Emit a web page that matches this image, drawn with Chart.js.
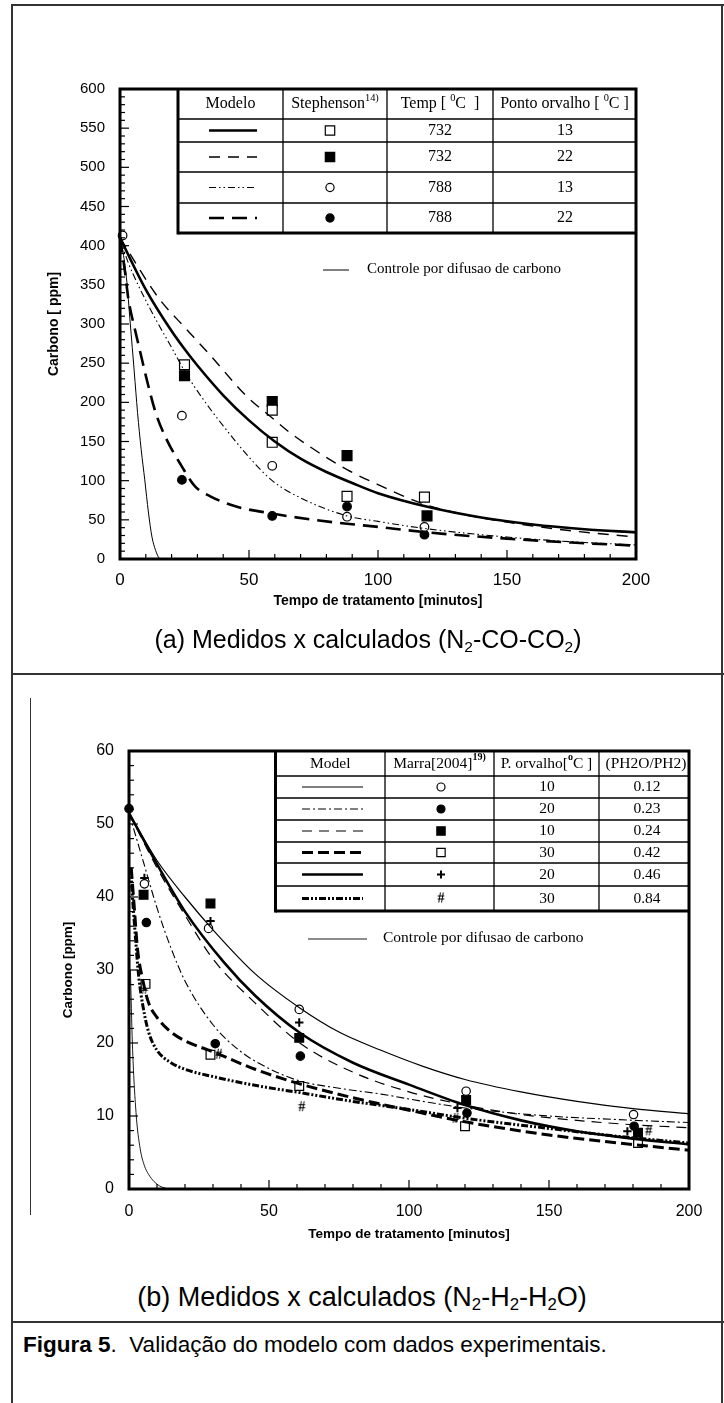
<!DOCTYPE html>
<html>
<head>
<meta charset="utf-8">
<script src="https://cdn.jsdelivr.net/npm/chart.js@4.4.1/dist/chart.umd.min.js"></script>
<style>
body { margin: 0; background: #fff; width: 724px; height: 1403px; position: relative; overflow: hidden; font-family: "Liberation Sans", Arial, sans-serif; }
.ln { position: absolute; background: #333; }
canvas { position: absolute; left: 0; top: 0; }
.cap { position: absolute; white-space: nowrap; color: #000; }
sub { font-size: 62%; vertical-align: -0.25em; }
</style>
</head>
<body>
<div class="ln" style="left:11px;top:4px;width:2px;height:1399px"></div>
<div class="ln" style="left:11px;top:4px;width:713px;height:2px"></div>
<div class="ln" style="left:721px;top:4px;width:2px;height:1399px"></div>
<div class="ln" style="left:11px;top:673px;width:713px;height:2px"></div>
<div class="ln" style="left:30px;top:698px;width:1px;height:517px"></div>

<canvas id="chartA" width="724" height="640"></canvas>
<canvas id="chartB" width="724" height="1262"></canvas>

<div class="cap" style="left:0;width:736px;text-align:center;top:625px;font-size:25px">(a) Medidos x calculados (N<sub>2</sub>-CO-CO<sub>2</sub>)</div>
<div class="cap" style="left:0;width:724px;text-align:center;top:1282px;height:30px;overflow:hidden;font-size:27px">(b) Medidos x calculados (N<sub>2</sub>-H<sub>2</sub>-H<sub>2</sub>O)</div>
<div class="ln" style="left:11px;top:1321px;width:713px;height:2px"></div>
<div class="cap" style="left:23px;top:1332px;font-size:22.5px"><b>Figura 5</b>.&nbsp; Validação do modelo com dados experimentais.</div>

<script>
// ---------- panel (a): N2-CO-CO2, Stephenson ----------
var aSolidX = [0, 10, 20, 25, 30, 40, 50, 60, 70, 80, 90, 100, 120, 140, 160, 180, 200];
var aSolidY = [410, 344, 291, 268, 247, 209, 177, 150, 128, 111, 97, 84, 66, 53, 44, 38, 34];
var aDashX = [0, 15, 25, 35, 49, 59, 66, 77, 88, 100, 117, 133, 150, 175, 200];
var aDashY = [410, 333, 296, 260, 208, 180, 161, 136, 114, 95, 71, 57, 47, 36, 28];
var aDotX = [0, 3, 7, 10, 14, 20, 25, 32, 40, 50, 59, 70, 88, 100, 118, 150, 175, 200];
var aDotY = [410, 380, 350, 330, 305, 270, 240, 205, 170, 130, 100, 78, 55, 48, 39, 28, 22, 18];
var aLongX = [0, 2, 3.2, 6, 8, 10.3, 13.8, 18, 24, 29, 35, 45, 59, 75, 88, 100, 119, 150, 175, 200];
var aLongY = [410, 365, 333, 290, 262, 230, 187, 153, 118, 93, 80, 67, 58, 50, 45, 41, 34, 26, 21, 17];
var aCtrlX = [0, 1, 2.5, 4, 5.5, 6.8, 8.2, 9.6, 11, 12.4, 13.8, 15.2, 16];
var aCtrlY = [410, 395, 359, 300, 240, 187, 140, 101, 60, 28, 11, 1, 0];

var aSqOpenX = [25, 59, 59, 88, 118];
var aSqOpenY = [248, 190, 149, 80, 79];
var aSqFillX = [25, 59, 88, 119];
var aSqFillY = [234, 201, 132, 55];
var aCircOpenX = [1, 24, 59, 88, 118];
var aCircOpenY = [413, 183, 119, 54, 41];
var aCircFillX = [24, 59, 88, 118];
var aCircFillY = [101, 55, 67, 31];

var aTemp = ['732', '732', '788', '788'];
var aDew = ['13', '22', '13', '22'];

// ---------- panel (b): N2-H2-H2O, Marra ----------
var bThinX = [0, 10, 20, 30, 45, 61, 75, 90, 105, 120, 140, 160, 180, 200];
var bThinY = [51.5, 45, 40, 35.5, 29.5, 24.8, 21.5, 19, 16.8, 15, 13.3, 12, 11, 10.3];
var bDashDotX = [0, 5, 10, 15, 20, 30, 40, 50, 61, 75, 90, 105, 120, 150, 175, 200];
var bDashDotY = [51.5, 45, 38.5, 33, 28.5, 22.5, 18.8, 16.5, 14.8, 13.8, 13, 12, 11.1, 10, 9.5, 9.1];
var bDashX = [0, 10, 20, 30, 45, 61, 80, 100, 120, 140, 160, 180, 200];
var bDashY = [51.5, 44, 37.5, 31.5, 25.5, 20, 16, 13.3, 11.5, 10.2, 9.4, 8.8, 8.4];
var bThickDashX = [0.8, 2, 3, 5, 7, 10, 15, 20, 30, 45, 61, 80, 100, 120, 150, 175, 200];
var bThickDashY = [44, 38, 33, 28.5, 25.5, 23.5, 21.5, 20.3, 18.8, 16.4, 14.4, 12.5, 10.8, 9.2, 7.4, 6.3, 5.3];
var bThickX = [0, 10, 20, 34, 45, 61, 80, 100, 120, 140, 160, 180, 200];
var bThickY = [51.5, 44.5, 38, 31, 26.5, 21.4, 17.3, 14.3, 11.5, 9.4, 7.9, 6.9, 6.1];
var bDotX = [0.5, 2, 3.5, 5, 7, 10, 15, 20, 30, 45, 61, 80, 100, 120, 150, 175, 200];
var bDotY = [44, 36, 29, 25, 21.5, 19, 17.3, 16.4, 15.4, 14.2, 13.2, 12, 10.9, 9.7, 8.3, 7.2, 6.3];
var bCtrlX = [0.5, 1.2, 2.5, 4, 5.5, 7, 9, 11, 14];
var bCtrlY = [30, 20, 10.5, 5.5, 3.2, 2, 1, 0.4, 0];

var bCircOpenX = [5.5, 28.4, 60.8, 120.4, 180.2];
var bCircOpenY = [41.8, 35.7, 24.6, 13.4, 10.2];
var bCircFillX = [0, 6.2, 30.8, 61.2, 120.7, 180.4];
var bCircFillY = [52.1, 36.5, 19.9, 18.2, 10.4, 8.6];
var bSqFillX = [5.2, 29.1, 60.8, 120.4, 181.8];
var bSqFillY = [40.3, 39.1, 20.7, 12.2, 7.7];
var bSqOpenX = [5.9, 29.1, 60.8, 120, 181.8];
var bSqOpenY = [28.1, 18.4, 14.1, 8.6, 6.3];
var bPlusX = [5.5, 29.1, 60.8, 117.3, 178];
var bPlusY = [42.6, 36.7, 22.8, 11.1, 7.9];
var bHashX = [5.6, 32.1, 61.7, 116.6, 185.6];
var bHashY = [27.3, 18.4, 11.2, 9.6, 7.9];

var bDew = ['10', '20', '10', '30', '20', '30'];
var bRatio = ['0.12', '0.23', '0.24', '0.42', '0.46', '0.84'];

var SANS = '"Liberation Sans", Arial, sans-serif';
var SERIF = '"Liberation Serif", "Times New Roman", serif';

function pts(xs, ys) {
    return xs.map(function (x, i) { return { x: x, y: ys[i] }; });
}

function curve(xs, ys, width, dash) {
    return {
        data: pts(xs, ys), showLine: true, pointRadius: 0, borderColor: '#000',
        borderWidth: width, borderDash: dash, cubicInterpolationMode: 'monotone', fill: false
    };
}

function marks(xs, ys, style, radius, filled, bw) {
    return {
        data: pts(xs, ys), showLine: false, pointStyle: style, pointRadius: radius,
        pointBackgroundColor: filled ? '#000' : '#fff', pointBorderColor: '#000',
        pointBorderWidth: bw || 1.2, clip: false
    };
}

function glyph(ch) {
    var c = document.createElement('canvas');
    c.width = 12; c.height = 14;
    var g = c.getContext('2d');
    g.font = 'bold 14px ' + SERIF;
    g.textAlign = 'center'; g.textBaseline = 'middle'; g.fillStyle = '#000';
    g.fillText(ch, 6, 7.5);
    return c;
}

// draws "text" pieces with superscripts, centred on cx
function rich(ctx, parts, cx, cy, size) {
    var w = 0;
    parts.forEach(function (p) {
        ctx.font = (p.bold ? 'bold ' : '') + (p.sup ? size * 0.65 : size) + 'px ' + SERIF;
        p.w = ctx.measureText(p.t).width; w += p.w;
    });
    var x = cx - w / 2;
    ctx.textAlign = 'left'; ctx.textBaseline = 'middle';
    parts.forEach(function (p) {
        ctx.font = (p.bold ? 'bold ' : '') + (p.sup ? size * 0.65 : size) + 'px ' + SERIF;
        ctx.fillText(p.t, x, p.sup ? cy - size * 0.38 : cy);
        x += p.w;
    });
}

function line(ctx, x1, y1, x2, y2) {
    ctx.beginPath(); ctx.moveTo(x1, y1); ctx.lineTo(x2, y2); ctx.stroke();
}

var decor = {
    id: 'decor',
    afterDraw: function (chart, args, o) {
        var ctx = chart.ctx, a = chart.chartArea;
        var sx = chart.scales.x, sy = chart.scales.y;
        ctx.save();
        ctx.strokeStyle = '#000'; ctx.fillStyle = '#000';
        ctx.setLineDash([]);
        // inward ticks
        ctx.lineWidth = 1.2;
        for (var v = sx.min; v <= sx.max; v += o.minorX) {
            var len = (Math.round(v) % o.majorX === 0) ? 9 : 5;
            var px = sx.getPixelForValue(v);
            line(ctx, px, a.bottom, px, a.bottom - len);
        }
        for (var w = sy.min; w <= sy.max + 1e-9; w += o.minorY) {
            var len2 = (Math.round(w * 10) % Math.round(o.majorY * 10) === 0) ? 9 : 5;
            var py = sy.getPixelForValue(w);
            line(ctx, a.left, py, a.left + len2, py);
        }
        // frame of the plot
        ctx.lineWidth = 3;
        ctx.strokeRect(a.left, a.top, a.right - a.left, a.bottom - a.top);

        // table
        var t = o.table, L = t.cols[0], R = t.cols[t.cols.length - 1];
        var T = t.rows[0], B = t.rows[t.rows.length - 1];
        ctx.lineWidth = 1.3;
        for (var i = 1; i < t.cols.length - 1; i++) line(ctx, t.cols[i], T, t.cols[i], B);
        for (var j = 1; j < t.rows.length - 1; j++) line(ctx, L, t.rows[j], R, t.rows[j]);
        ctx.lineWidth = 3;
        line(ctx, L, T, L, B + 1.5);
        line(ctx, L, B, R, B);
        var hy = (t.rows[0] + t.rows[1]) / 2;
        t.head.forEach(function (h, k) {
            rich(ctx, h, (t.cols[k] + t.cols[k + 1]) / 2 + (t.headDx ? t.headDx[k] : 0), hy, t.size);
        });
        t.items.forEach(function (it, r) {
            var cy = (t.rows[r + 1] + t.rows[r + 2]) / 2;
            var ld = chart.data.datasets[it.line];
            ctx.lineWidth = ld.borderWidth;
            ctx.setLineDash(ld.borderDash || []);
            line(ctx, t.sample[0], cy, t.sample[1], cy);
            ctx.setLineDash([]);
            var md = chart.data.datasets[it.mark];
            ctx.fillStyle = md.pointBackgroundColor;
            ctx.strokeStyle = '#000';
            ctx.lineWidth = md.pointBorderWidth;
            Chart.helpers.drawPoint(ctx, {
                pointStyle: md.pointStyle, radius: md.pointRadius * t.markScale,
                rotation: 0, borderWidth: md.pointBorderWidth
            }, t.markX, cy);
            ctx.fillStyle = '#000';
            ctx.font = t.size + 'px ' + SERIF;
            ctx.textAlign = 'center'; ctx.textBaseline = 'middle';
            ctx.fillText(it.c3, t.c3x, cy);
            ctx.fillText(it.c4, t.c4x, cy);
        });
        // diffusion legend
        var g = o.ctrl;
        var cd = chart.data.datasets[g.ds];
        ctx.lineWidth = cd.borderWidth;
        line(ctx, g.x1, g.y, g.x2, g.y);
        ctx.font = g.size + 'px ' + SERIF;
        ctx.textAlign = 'left'; ctx.textBaseline = 'middle';
        ctx.fillText('Controle por difusao de carbono', g.tx, g.y - 1);
        ctx.restore();
    }
};

function axisOpts(min, max, step, tickSize, title, titleSize, fit, pad, titlePad, isX) {
    return {
        type: 'linear', min: min, max: max,
        afterFit: function (s) { if (isX) s.height = fit; else s.width = fit; },
        grid: { display: false }, border: { display: false },
        ticks: { stepSize: step, padding: pad, color: '#000', font: { family: SANS, size: tickSize } },
        title: { display: true, text: title, color: '#000', padding: titlePad,
                 font: { family: SANS, size: titleSize, weight: 'bold' } }
    };
}

// ---------------- chart (a) ----------------
var dsA = [
    curve(aSolidX, aSolidY, 2.6, []),                 // 0
    curve(aDashX, aDashY, 1.4, [11, 8]),               // 1
    curve(aDotX, aDotY, 1.1, [7, 3, 1.5, 3, 1.5, 3]),  // 2
    curve(aLongX, aLongY, 2.6, [15, 8]),               // 3
    curve(aCtrlX, aCtrlY, 1, []),                      // 4
    marks(aSqOpenX, aSqOpenY, 'rect', 7, false),       // 5
    marks(aSqFillX, aSqFillY, 'rect', 7, true),        // 6
    marks(aCircOpenX, aCircOpenY, 'circle', 4.3, false), // 7
    marks(aCircFillX, aCircFillY, 'circle', 4.3, true)   // 8
];

new Chart(document.getElementById('chartA'), {
    type: 'scatter',
    data: { datasets: dsA },
    options: {
        responsive: false, animation: false,
        layout: { padding: { left: 0, top: 89, right: 88, bottom: 0 } },
        plugins: {
            legend: { display: false }, tooltip: { enabled: false },
            decor: {
                minorX: 10, majorX: 50, minorY: 10, majorY: 50,
                table: {
                    cols: [178, 283, 387, 493, 636], rows: [89, 119, 142, 172, 203, 233], size: 16,
                    head: [[{ t: 'Modelo' }], [{ t: 'Stephenson' }, { t: '14)', sup: true }],
                           [{ t: 'Temp [ ' }, { t: '0', sup: true }, { t: 'C  ]' }],
                           [{ t: 'Ponto orvalho [ ' }, { t: '0', sup: true }, { t: 'C ]' }]],
                    sample: [209, 257], markX: 330, markScale: 0.95, c3x: 440, c4x: 565,
                    items: [0, 1, 2, 3].map(function (r) {
                        return { line: r, mark: 5 + r, c3: aTemp[r], c4: aDew[r] };
                    })
                },
                ctrl: { ds: 4, x1: 323, x2: 349, y: 270, tx: 367, size: 15 }
            }
        },
        scales: {
            x: axisOpts(0, 200, 50, 17, 'Tempo de tratamento [minutos]', 14, 81, 3, { top: 0, bottom: 30 }, true),
            y: axisOpts(0, 600, 50, 15, 'Carbono [ ppm]', 14, 120, 7, { top: 46, bottom: 0 }, false)
        }
    },
    plugins: [decor]
});

// ---------------- chart (b) ----------------
var hash = glyph('#');
var dsB = [
    curve(bThinX, bThinY, 1.2, []),                      // 0
    curve(bDashDotX, bDashDotY, 1.1, [8, 3, 2, 3]),       // 1
    curve(bDashX, bDashY, 1.2, [10, 7]),                 // 2
    curve(bThickDashX, bThickDashY, 3, [11, 5]),         // 3
    curve(bThickX, bThickY, 2.6, []),                    // 4
    curve(bDotX, bDotY, 3, [7, 2, 2, 2, 2, 2]),          // 5
    curve(bCtrlX, bCtrlY, 0.9, []),                      // 6
    marks(bCircOpenX, bCircOpenY, 'circle', 4.2, false), // 7
    marks(bCircFillX, bCircFillY, 'circle', 4.2, true),  // 8
    marks(bSqFillX, bSqFillY, 'rect', 6.2, true),        // 9
    marks(bSqOpenX, bSqOpenY, 'rect', 6.2, false),       // 10
    marks(bPlusX, bPlusY, 'cross', 4.2, true, 2),        // 11
    marks(bHashX, bHashY, hash, 6, true, 1)              // 12
];

new Chart(document.getElementById('chartB'), {
    type: 'scatter',
    data: { datasets: dsB },
    options: {
        responsive: false, animation: false,
        layout: { padding: { left: 0, top: 751, right: 35, bottom: 0 } },
        plugins: {
            legend: { display: false }, tooltip: { enabled: false },
            decor: {
                minorX: 10, majorX: 50, minorY: 2, majorY: 10,
                table: {
                    cols: [275.5, 385, 494, 599, 689], rows: [751, 776, 798, 820, 842, 863, 886, 911], size: 15.5,
                    headDx: [0, 0, 0, 2],
                    head: [[{ t: 'Model' }], [{ t: 'Marra[2004]' }, { t: '19)', sup: true, bold: true }],
                           [{ t: 'P. orvalho[' }, { t: 'o', sup: true, bold: true }, { t: 'C ]' }],
                           [{ t: '(PH2O/PH2)' }]],
                    sample: [302, 363], markX: 441, markScale: 0.95, c3x: 547, c4x: 647,
                    items: [0, 1, 2, 3, 4, 5].map(function (r) {
                        return { line: r, mark: [7, 8, 9, 10, 11, 12][r], c3: bDew[r], c4: bRatio[r] };
                    })
                },
                ctrl: { ds: 6, x1: 308, x2: 367, y: 939, tx: 383, size: 15.5 }
            }
        },
        scales: {
            x: axisOpts(0, 200, 50, 16, 'Tempo de tratamento [minutos]', 13.5, 73, 5, { top: 0, bottom: 20 }, true),
            y: axisOpts(0, 60, 10, 16, 'Carbono [ppm]', 13.5, 129, 7, { top: 60, bottom: 0 }, false)
        }
    },
    plugins: [decor]
});
</script>
</body>
</html>
